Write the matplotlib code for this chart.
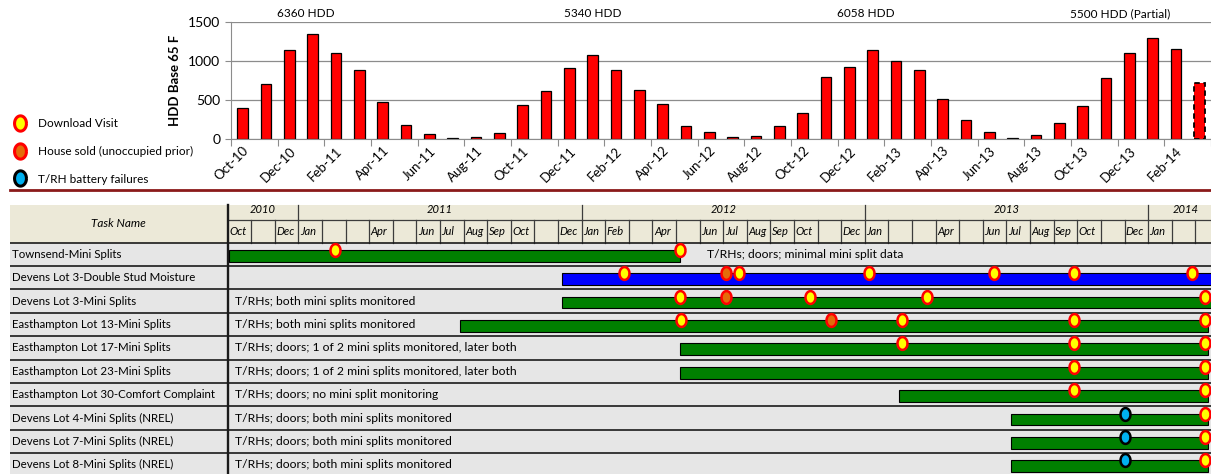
import numpy as np
import matplotlib.pyplot as plt
from matplotlib.lines import Line2D
from matplotlib.patches import Rectangle

plt.rcParams['font.family'] = ['Lato', 'DejaVu Sans']

W, H = 1211, 474

# monthly heating degree days (base 65 F), Oct-10 .. Mar-14
hdd_months = ["Oct-10", "Nov-10", "Dec-10", "Jan-11", "Feb-11", "Mar-11", "Apr-11", "May-11",
              "Jun-11", "Jul-11", "Aug-11", "Sep-11", "Oct-11", "Nov-11", "Dec-11", "Jan-12",
              "Feb-12", "Mar-12", "Apr-12", "May-12", "Jun-12", "Jul-12", "Aug-12", "Sep-12",
              "Oct-12", "Nov-12", "Dec-12", "Jan-13", "Feb-13", "Mar-13", "Apr-13", "May-13",
              "Jun-13", "Jul-13", "Aug-13", "Sep-13", "Oct-13", "Nov-13", "Dec-13", "Jan-14",
              "Feb-14", "Mar-14"]
hdd_values = [397, 711, 1138, 1340, 1099, 884, 470, 185, 69, 17, 30, 82,
              431, 612, 913, 1071, 891, 630, 446, 167, 90, 26, 39, 163,
              334, 797, 921, 1136, 1003, 887, 514, 244, 86, 17, 56, 201,
              429, 784, 1106, 1299, 1149, 720]

season_labels = ["6360 HDD", "5340 HDD", "6058 HDD", "5500 HDD (Partial)"]
season_pos = [2.7, 15.0, 26.7, 37.6]

# gantt: time in months counted from 1 Oct 2010
year_labels = ["2010", "2011", "2012", "2013", "2014"]
year_starts = [0, 3, 15, 27, 39]
year_label_pos = [1.5, 9, 21, 33, 40.6]
month_labels = ["Oct", "", "Dec",
                "Jan", "", "", "Apr", "", "Jun", "Jul", "Aug", "Sep", "Oct", "", "Dec",
                "Jan", "Feb", "", "Apr", "", "Jun", "Jul", "Aug", "Sep", "Oct", "", "Dec",
                "Jan", "", "", "Apr", "", "Jun", "Jul", "Aug", "Sep", "Oct", "", "Dec",
                "Jan", "", ""]

task_names = ["Townsend-Mini Splits", "Devens Lot 3-Double Stud Moisture",
              "Devens Lot 3-Mini Splits", "Easthampton Lot 13-Mini Splits",
              "Easthampton Lot 17-Mini Splits", "Easthampton Lot 23-Mini Splits",
              "Easthampton Lot 30-Comfort Complaint", "Devens Lot 4-Mini Splits (NREL)",
              "Devens Lot 7-Mini Splits (NREL)", "Devens Lot 8-Mini Splits (NREL)"]
task_start = [0.07, 14.18, 14.18, 9.85, 19.18, 19.18, 28.46, 33.21, 33.21, 33.21]
task_end = [19.18, 42.5, 42.5, 41.55, 41.55, 41.55, 41.55, 41.55, 41.55, 41.55]
task_colors = ["#008000", "#0000FF", "#008000", "#008000", "#008000",
               "#008000", "#008000", "#008000", "#008000", "#008000"]
task_notes = ["T/RHs; doors; minimal mini split data", "",
              "T/RHs; both mini splits monitored", "T/RHs; both mini splits monitored",
              "T/RHs; doors; 1 of 2 mini splits monitored, later both",
              "T/RHs; doors; 1 of 2 mini splits monitored, later both",
              "T/RHs; doors; no mini split monitoring",
              "T/RHs; doors; both mini splits monitored",
              "T/RHs; doors; both mini splits monitored",
              "T/RHs; doors; both mini splits monitored"]
note_pos = [20.3, 0.3, 0.3, 0.3, 0.3, 0.3, 0.3, 0.3, 0.3, 0.3]

visits = [[4.56, 19.18],
          [16.79, 21.66, 27.19, 32.47, 35.85, 40.87],
          [19.18, 24.66, 29.65, 41.41],
          [19.22, 28.57, 35.85, 41.41],
          [28.57, 35.85, 41.41],
          [35.85, 41.41],
          [35.85, 41.41],
          [41.41], [41.41], [41.41]]
house_sold = [[], [21.12], [21.12], [25.57], [], [], [], [], [], []]
battery_fail = [[], [], [], [], [], [], [], [38.03], [38.03], [38.03]]

# elliptical marker like the project-chart milestones
theta = np.linspace(0, 2 * np.pi, 41)
ellipse = np.column_stack([0.78 * np.cos(theta), np.sin(theta)])

visit_style = dict(marker=ellipse, facecolor="#FFFF00", edgecolor="#FF0000")
sold_style = dict(marker=ellipse, facecolor="#E46C0A", edgecolor="#FF0000")
battery_style = dict(marker=ellipse, facecolor="#00B0F0", edgecolor="black")

fig = plt.figure(figsize=(W / 100, H / 100), dpi=100)

#top: HDD bar chart
step = 23.59
x0 = 230.9
ax = fig.add_axes([x0 / W, (H - 139) / H, (W - x0) / W, 117 / H])
x = np.arange(len(hdd_values))
bars = ax.bar(x, hdd_values, width=0.46, color="#FF0000", edgecolor="black", linewidth=0.9)
bars[-1].set_linestyle((0, (3, 2)))
bars[-1].set_linewidth(1.3)
ax.set_xlim(-0.5, -0.5 + (W - x0) / step)
ax.set_ylim(0, 1500)
ax.set_yticks([0, 500, 1000, 1500])
ax.yaxis.grid(True, color="#8C8C8C", linewidth=0.9)
ax.set_axisbelow(True)
for s in ["top", "right"]:
    ax.spines[s].set_visible(False)
ax.spines["left"].set_color("#8C8C8C")
ax.spines["bottom"].set_color("#8C8C8C")
ax.tick_params(axis="y", colors="#8C8C8C", labelcolor="black", labelsize=10, length=4)
ax.set_xticks(np.arange(-0.5, len(hdd_values), 2))
ax.set_xticklabels([])
ax.tick_params(axis="x", which="major", colors="#8C8C8C", length=5)
ax.set_xticks(x[::2], minor=True)
ax.set_xticklabels(hdd_months[::2], minor=True, rotation=45, ha="right",
                   rotation_mode="anchor", fontsize=9.5)
ax.tick_params(axis="x", which="minor", length=0, pad=4)
ax.set_ylabel("HDD Base 65 F", fontweight="bold", fontsize=9.5)
ax.yaxis.set_label_coords((181 - x0) / (W - x0), 0.5)
for lab, p in zip(season_labels, season_pos):
    ax.text(p, 1540, lab, ha="center", va="bottom", fontsize=8.5, clip_on=False)

#legend for the milestone markers
handles = [Line2D([], [], ls="", marker=ellipse, markersize=11, markeredgewidth=2.2,
                  markerfacecolor=st["facecolor"], markeredgecolor=st["edgecolor"])
           for st in [visit_style, sold_style, battery_style]]
fig.legend(handles, ["Download Visit", "House sold (unoccupied prior)", "T/RH battery failures"],
           loc="upper left", bbox_to_anchor=(13 / W, (H - 118) / H), frameon=False,
           fontsize=8.5, labelspacing=1.42, handletextpad=0.95, handlelength=1.2,
           borderpad=0, borderaxespad=0)

fig.add_artist(Line2D([10 / W, 1], [(H - 190) / H] * 2, color="#8B1A1A", linewidth=2))

#bottom: gantt table
gx = fig.add_axes([10 / W, 0, (W - 10) / W, (H - 200) / H])
t_left = -(227.7 - 10) / 23.6
t_right = (W - 227.7) / 23.6
gx.set_xlim(t_left, t_right)
gx.set_ylim((H - 200) / 23.4, 0)
gx.axis("off")

head_top = 0.21
year_bot = 0.855
row0 = 1.82
n_rows = len(task_names)
header = Rectangle((t_left, head_top), t_right - t_left + 1, row0 - head_top,
                   facecolor="#ECE9D8", edgecolor="none", zorder=0)
gx.add_patch(header)
gx.add_patch(Rectangle((t_left, row0), t_right - t_left + 1, n_rows + 1,
                       facecolor="#E6E6E6", edgecolor="none", zorder=0))

line_kw = dict(color="#3C3C3C", linewidth=0.9, zorder=1)
gx.plot([0, t_right + 1], [year_bot, year_bot], **line_kw)
for ys in year_starts[1:]:
    gx.plot([ys, ys], [head_top, year_bot], **line_kw)
for m in range(1, len(month_labels)):
    gx.plot([m, m], [year_bot, row0], **line_kw)
for lab, p in zip(year_labels, year_label_pos):
    yt = gx.text(p, 0.4, lab, ha="center", va="center", fontsize=8, style="italic")
    yt.set_clip_path(header)
for m, lab in enumerate(month_labels):
    gx.text(m + 0.06, (year_bot + row0) / 2, lab, ha="left", va="center",
            fontsize=8, style="italic")
gx.text(t_left / 2, (head_top + row0) / 2, "Task Name", ha="center", va="center",
        fontsize=8.5, style="italic")

dark_kw = dict(color="#1A1A1A", linewidth=1.2, zorder=1)
for i in range(n_rows + 1):
    gx.plot([t_left, t_right + 1], [row0 + i, row0 + i], **dark_kw)
gx.plot([0, 0], [head_top, row0 + n_rows + 1], color="#1A1A1A", linewidth=1.7, zorder=1)

for i in range(n_rows):
    top = row0 + i
    gx.text(t_left + 0.09, top + 0.5, task_names[i], ha="left", va="center", fontsize=8.3)
    if task_notes[i]:
        gx.text(note_pos[i], top + 0.5, task_notes[i], ha="left", va="center", fontsize=8.7)
    gx.barh(top + 0.56, task_end[i] - task_start[i], left=task_start[i], height=0.5,
            color=task_colors[i], edgecolor="black", linewidth=0.8, zorder=2)
    mark_y = top + 0.31
    if visits[i]:
        gx.scatter(visits[i], [mark_y] * len(visits[i]), s=85, linewidths=1.8,
                   zorder=4, **visit_style)
    if house_sold[i]:
        gx.scatter(house_sold[i], [mark_y] * len(house_sold[i]), s=85, linewidths=1.8,
                   zorder=4, **sold_style)
    if battery_fail[i]:
        gx.scatter(battery_fail[i], [mark_y] * len(battery_fail[i]), s=85, linewidths=1.8,
                   zorder=4, **battery_style)

fig.savefig("out.png", dpi=100)
